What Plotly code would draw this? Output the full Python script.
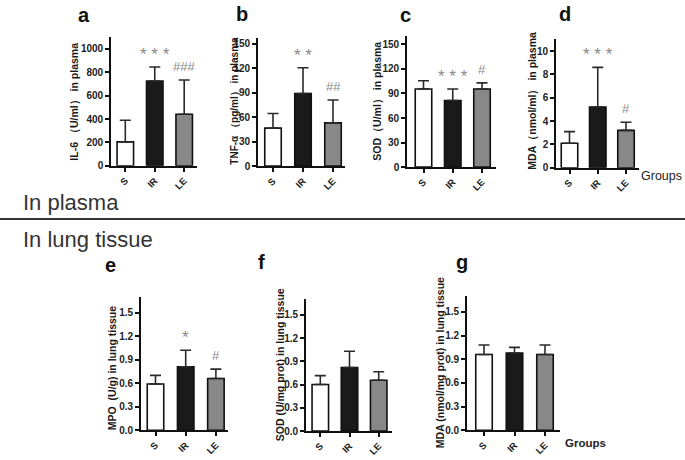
import plotly.graph_objects as go

# ---------------- data ----------------
groups = ["S", "IR", "LE"]

il6_mean = [205, 725, 441]
il6_sd = [185, 120, 293]

tnf_mean = [46.5, 89, 53]
tnf_sd = [18, 31.5, 28]

sod_plasma_mean = [95.5, 81.5, 95.5]
sod_plasma_sd = [10, 14, 7.5]

mda_plasma_mean = [2.1, 5.2, 3.2]
mda_plasma_sd = [1.0, 3.4, 0.7]

mpo_lung_mean = [0.59, 0.81, 0.66]
mpo_lung_sd = [0.11, 0.21, 0.12]

sod_lung_mean = [0.60, 0.82, 0.655]
sod_lung_sd = [0.115, 0.21, 0.11]

mda_lung_mean = [0.96, 0.98, 0.96]
mda_lung_sd = [0.12, 0.07, 0.12]

# significance marks per group (S, IR, LE)
il6_marks = ["", "* * *", "###"]
tnf_marks = ["", "* *", "##"]
sod_plasma_marks = ["", "* * *", "#"]
mda_plasma_marks = ["", "* * *", "#"]
mpo_lung_marks = ["", "*", "#"]
sod_lung_marks = ["", "", ""]
mda_lung_marks = ["", "", ""]

# ---------------- styling / layout ----------------
W, H = 685, 460
FONT = "Liberation Sans, Arial, sans-serif"
bar_colors = ["#ffffff", "#1a1a1a", "#888888"]


def fx(p):
    return p / W


def fy(p):
    return 1 - p / H


panels = [
    dict(letter="a", mean=il6_mean, sd=il6_sd, marks=il6_marks,
         ax=111, c0=125.3, sp=29.45, xend=197, y0=168, ppu=0.1185, ymax=1100,
         dtick=200, fmt="d", title="IL-6 （U/ml） in plasma", tx=75, ty=103, ts=10.5,
         lx=84, ly=15),
    dict(letter="b", mean=tnf_mean, sd=tnf_sd, marks=tnf_marks,
         ax=258, c0=273, sp=30, xend=345, y0=168.3, ppu=0.8267, ymax=157,
         dtick=30, fmt="d", title="TNF-α （pg/ml） in plasma", tx=235, ty=102, ts=10,
         lx=242, ly=14),
    dict(letter="c", mean=sod_plasma_mean, sd=sod_plasma_sd, marks=sod_plasma_marks,
         ax=407, c0=423.5, sp=29.25, xend=496, y0=169.3, ppu=0.8287, ymax=160,
         dtick=30, fmt="d", title="SOD（U/ml） in plasma", tx=378, ty=103, ts=10.5,
         lx=405, ly=15),
    dict(letter="d", mean=mda_plasma_mean, sd=mda_plasma_sd, marks=mda_plasma_marks,
         ax=556, c0=569.5, sp=28.25, xend=639, y0=170, ppu=11.83, ymax=11,
         dtick=2, fmt="d", title="MDA（nmol/ml） in plasma", tx=533, ty=102, ts=10.5,
         lx=565, ly=14),
    dict(letter="e", mean=mpo_lung_mean, sd=mpo_lung_sd, marks=mpo_lung_marks,
         ax=141, c0=155.5, sp=30.2, xend=228, y0=436, ppu=79.53, ymax=1.7,
         dtick=0.3, fmt=".1f", title="MPO  (U/g) in lung tissue", tx=112, ty=373, ts=10.5,
         lx=110, ly=268),
    dict(letter="f", mean=sod_lung_mean, sd=sod_lung_sd, marks=sod_lung_marks,
         ax=306, c0=320.3, sp=29.2, xend=392, y0=436.7, ppu=78.47, ymax=1.7,
         dtick=0.3, fmt=".1f", title="SOD (U/mg prot) in lung tissue", tx=280, ty=370, ts=10.5,
         lx=261, ly=265),
    dict(letter="g", mean=mda_lung_mean, sd=mda_lung_sd, marks=mda_lung_marks,
         ax=467, c0=484, sp=30.5, xend=560, y0=436, ppu=80.0, ymax=1.7,
         dtick=0.3, fmt=".1f", title="MDA (nmol/mg prot) in lung tissue", tx=440, ty=368, ts=10.5,
         lx=462, ly=265),
]

fig = go.Figure()
annotations = []
layout_axes = {}

for i, p in enumerate(panels, start=1):
    xa = "x" if i == 1 else f"x{i}"
    ya = "y" if i == 1 else f"y{i}"
    d = p["sp"]
    lo = -(p["c0"] - p["ax"]) / d
    hi = 2 + (p["xend"] - (p["c0"] + 2 * d)) / d
    bw = 16.5 / d
    fig.add_trace(go.Bar(
        x=groups, y=p["mean"], width=bw,
        marker=dict(color=bar_colors, line=dict(color="#111111", width=1.6)),
        error_y=dict(type="data", array=p["sd"], arrayminus=[0] * len(groups),
                     symmetric=False, color="#2a2a2a", thickness=1.6, width=5.5),
        xaxis=xa, yaxis=ya, showlegend=False, hoverinfo="skip",
    ))
    top_px = p["y0"] - p["ymax"] * p["ppu"]
    layout_axes["xaxis" if i == 1 else f"xaxis{i}"] = dict(
        domain=[fx(p["ax"]), fx(p["xend"])], anchor=ya, type="category",
        range=[lo, hi], showline=True, linecolor="#111111", linewidth=1.6,
        ticks="outside", ticklen=4, tickwidth=1.5, tickcolor="#111111",
        tickangle=-45, tickfont=dict(family=FONT, size=9.5, color="#222222", weight="bold"),
        showgrid=False, zeroline=False, fixedrange=True,
    )
    layout_axes["yaxis" if i == 1 else f"yaxis{i}"] = dict(
        domain=[fy(p["y0"]), fy(top_px)], anchor=xa, range=[0, p["ymax"]],
        showline=True, linecolor="#111111", linewidth=1.6,
        ticks="outside", ticklen=4, tickwidth=1.5, tickcolor="#111111",
        dtick=p["dtick"], tick0=0, tickformat=p["fmt"],
        tickfont=dict(family=FONT, size=10, color="#222222", weight="bold"),
        showgrid=False, zeroline=False, fixedrange=True,
    )
    # panel letter
    annotations.append(dict(
        text=f"<b>{p['letter']}</b>", x=fx(p["lx"]), y=fy(p["ly"]),
        xref="paper", yref="paper", xanchor="center", yanchor="middle",
        showarrow=False, font=dict(family=FONT, size=20, color="#111111"),
    ))
    # y-axis title
    annotations.append(dict(
        text=f"<b>{p['title']}</b>", x=fx(p["tx"]), y=fy(p["ty"]),
        xref="paper", yref="paper", xanchor="center", yanchor="middle",
        textangle=-90, showarrow=False,
        font=dict(family=FONT, size=p["ts"], color="#1a1a1a"),
    ))
    # significance marks
    for g, m, s, mk in zip(groups, p["mean"], p["sd"], p["marks"]):
        if not mk:
            continue
        star = "*" in mk
        annotations.append(dict(
            text=mk, x=g, y=m + s, xref=xa, yref=ya,
            xanchor="center", yanchor="bottom", yshift=(1 if star else 4),
            showarrow=False,
            font=dict(family=FONT, size=(17 if star else 13), color="#8a8a8a"),
        ))

# section labels
annotations += [
    dict(text="Groups", x=fx(684), y=fy(178), xref="paper", yref="paper",
         xanchor="right", yanchor="middle", showarrow=False,
         font=dict(family=FONT, size=12.5, color="#222222")),
    dict(text="<b>Groups</b>", x=fx(563), y=fy(449), xref="paper", yref="paper",
         xanchor="left", yanchor="middle", showarrow=False,
         font=dict(family=FONT, size=11.5, color="#222222")),
    dict(text="In plasma", x=fx(21), y=fy(205), xref="paper", yref="paper",
         xanchor="left", yanchor="middle", showarrow=False,
         font=dict(family=FONT, size=22, color="#333333")),
    dict(text="In lung tissue", x=fx(21), y=fy(243), xref="paper", yref="paper",
         xanchor="left", yanchor="middle", showarrow=False,
         font=dict(family=FONT, size=22, color="#333333")),
]

fig.update_layout(
    width=W, height=H, autosize=False,
    margin=dict(l=0, r=0, t=0, b=0),
    paper_bgcolor="white", plot_bgcolor="white",
    font=dict(family=FONT, color="#222222"),
    annotations=annotations,
    shapes=[dict(type="line", xref="paper", yref="paper",
                 x0=0, x1=1, y0=fy(222), y1=fy(222),
                 line=dict(color="#333333", width=2))],
    **layout_axes,
)

fig.write_html(
    "out.html",
    config={"displayModeBar": False},
    post_script="document.body.style.margin='0';document.body.style.overflow='hidden';",
)
